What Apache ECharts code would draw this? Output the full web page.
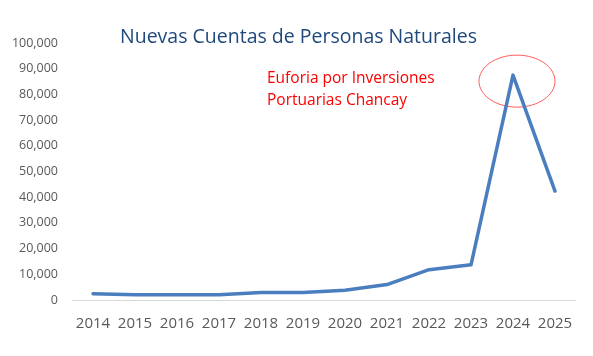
<!DOCTYPE html>
<html>
<head>
<meta charset="utf-8">
<script src="https://cdn.jsdelivr.net/npm/echarts@6/dist/echarts.min.js"></script>
<style>html,body{margin:0;padding:0;background:#fff}#c{width:593px;height:356px}</style>
</head>
<body>
<div id="c"></div>
<script>
const years = ['2014','2015','2016','2017','2018','2019','2020','2021','2022','2023','2024','2025'];
const cuentas = [2400, 2000, 2000, 2000, 2900, 2900, 3800, 6000, 11800, 13700, 87500, 42400];
const yTicks = {min: 0, max: 100000, interval: 10000};
const titleText = 'Nuevas Cuentas de Personas Naturales';
const noteLines = ['Euforia por Inversiones', 'Portuarias Chancay'];
const highlightYear = '2024';

const chart = echarts.init(document.getElementById('c'), null, {renderer: 'canvas'});
const font = '"Open Sans", "Liberation Sans", sans-serif';
chart.setOption({
  animation: false,
  backgroundColor: '#ffffff',
  title: {
    text: titleText, left: 115, top: 22,
    textStyle: {fontFamily: font, fontSize: 19.5, fontWeight: 'normal', color: '#1F497D'}
  },
  grid: {left: 72, right: 17, top: 43, bottom: 56},
  xAxis: {
    type: 'category', data: years, boundaryGap: true,
    axisLine: {show: true, lineStyle: {color: '#D9D9D9', width: 1}},
    axisTick: {show: false},
    axisLabel: {fontFamily: font, fontSize: 15, color: '#595959', margin: 16, interval: 0}
  },
  yAxis: {
    type: 'value', min: yTicks.min, max: yTicks.max, interval: yTicks.interval,
    splitLine: {show: false},
    axisLine: {show: false}, axisTick: {show: false},
    axisLabel: {
      fontFamily: font, fontSize: 12.5, color: '#595959', margin: 14,
      formatter: v => v.toLocaleString('en-US')
    }
  },
  series: [{
    type: 'line', data: cuentas, symbol: 'none',
    lineStyle: {color: '#4A7EBF', width: 3.5, cap: 'round', join: 'round'}
  }],
  graphic: [{
    type: 'text', left: 267, top: 67,
    style: {text: noteLines.join('\n'), fontFamily: font, fontSize: 15.5, fill: '#FF0000', lineHeight: 22.5}
  }]
});
const idx = years.indexOf(highlightYear);
const p = chart.convertToPixel({seriesIndex: 0}, [idx, cuentas[idx]]);
chart.setOption({
  graphic: [{}, {
    type: 'ellipse', shape: {cx: p[0] + 4, cy: p[1] + 6, rx: 38, ry: 26},
    style: {fill: 'none', stroke: '#FF5B5B', lineWidth: 1}
  }]
});
</script>
</body>
</html>
